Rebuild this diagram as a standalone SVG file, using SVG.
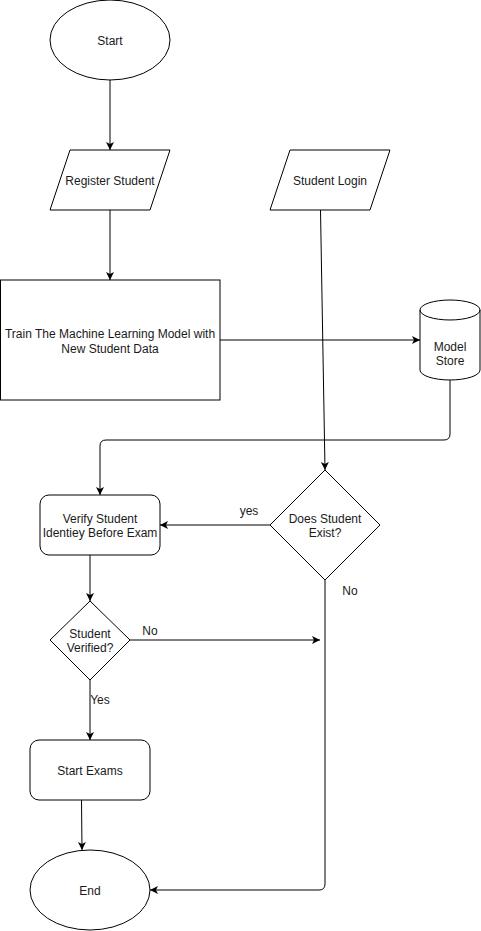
<svg xmlns="http://www.w3.org/2000/svg" width="481" height="931" viewBox="0 0 481 931">
<style>
.s{fill:#fff;stroke:#000;stroke-width:1}
.t{font-family:"Liberation Sans",Arial,sans-serif;font-size:12px;fill:#1a1a1a;text-anchor:middle;dominant-baseline:central}
.e{fill:none;stroke:#000;stroke-width:1}
.l{font-family:"Liberation Sans",Arial,sans-serif;font-size:12px;fill:#1a1a1a;text-anchor:middle;dominant-baseline:central}
</style>
<defs>
<marker id="a" markerUnits="userSpaceOnUse" markerWidth="10" markerHeight="10" refX="8" refY="4" orient="auto">
<path d="M0,0 L8,4 L0,8 L2,4 Z" fill="#000"/>
</marker>
</defs>
<rect width="481" height="931" fill="#fff"/>
<g id="connectors">
<path class="e" d="M110,80 V150" marker-end="url(#a)"/>
<path class="e" d="M110,210 V280" marker-end="url(#a)"/>
<path class="e" d="M220,340 H420" marker-end="url(#a)"/>
<path class="e" d="M320.5,210 L325,470" marker-end="url(#a)"/>
<path class="e" d="M450,380 V434 Q450,440 444,440 H106 Q100,440 100,446 V495" marker-end="url(#a)"/>
<path class="e" d="M270,525 H160" marker-end="url(#a)"/>
<text class="l" x="249" y="511">yes</text>
<path class="e" d="M325,580 V884 Q325,890 319,890 H150" marker-end="url(#a)"/>
<text class="l" x="350" y="591">No</text>
<path class="e" d="M90,555 V601" marker-end="url(#a)"/>
<path class="e" d="M130,640 H320" marker-end="url(#a)"/>
<text class="l" x="150" y="631">No</text>
<path class="e" d="M90,680 V740" marker-end="url(#a)"/>
<text class="l" x="100" y="700">Yes</text>
<path class="e" d="M81.5,800 L82,850" marker-end="url(#a)"/>
</g>
<g id="start">
<ellipse class="s" cx="110" cy="40" rx="60" ry="40"/>
<text class="t" x="110" y="41">Start</text>
</g>
<g id="register">
<polygon class="s" points="70,150 170,150 150,210 50,210"/>
<text class="t" x="110" y="181">Register Student</text>
</g>
<g id="login">
<polygon class="s" points="290,150 390,150 370,210 270,210"/>
<text class="t" x="330" y="181">Student Login</text>
</g>
<g id="train">
<rect class="s" x="0.5" y="280" width="219.5" height="120"/>
<text class="t" x="110" y="333.5">Train The Machine Learning Model with</text>
<text class="t" x="110" y="348.5">New Student Data</text>
</g>
<g id="store">
<path class="s" d="M420,310 A30,10 0 0 1 480,310 V370 A30,10 0 0 1 420,370 Z"/>
<path class="e" d="M420,310 A30,10 0 0 0 480,310"/>
<text class="t" x="450" y="347">Model</text>
<text class="t" x="450" y="361">Store</text>
</g>
<g id="verify">
<rect class="s" x="40" y="495" width="120" height="60" rx="9"/>
<text class="t" x="100" y="518.5">Verify Student</text>
<text class="t" x="100" y="532.5">Identiey Before Exam</text>
</g>
<g id="exists">
<polygon class="s" points="325,470 380,525 325,580 270,525"/>
<text class="t" x="325" y="518.5">Does Student</text>
<text class="t" x="325" y="532.5">Exist?</text>
</g>
<g id="verified">
<polygon class="s" points="90,601 130,640 90,680 50,640"/>
<text class="t" x="90" y="633.5">Student</text>
<text class="t" x="90" y="647.5">Verified?</text>
</g>
<g id="exams">
<rect class="s" x="30" y="740" width="120" height="60" rx="9"/>
<text class="t" x="90" y="770.5">Start Exams</text>
</g>
<g id="end">
<ellipse class="s" cx="90" cy="890" rx="60" ry="40"/>
<text class="t" x="90" y="890.5">End</text>
</g>
</svg>
